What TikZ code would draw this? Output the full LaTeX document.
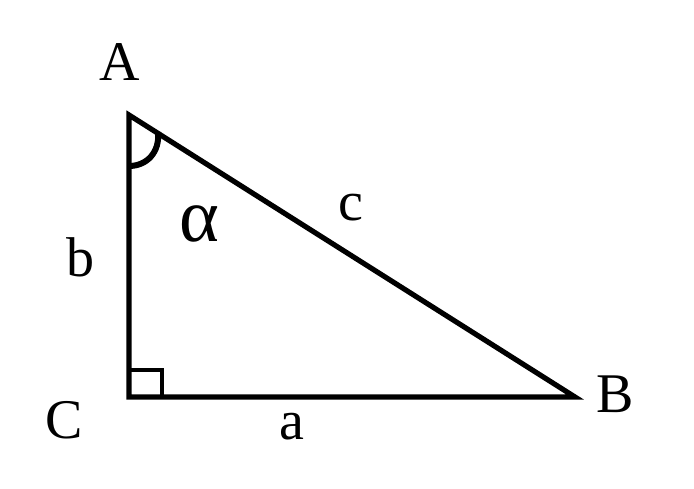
\documentclass[tikz,border=0pt]{standalone}
\usepackage{fontspec}
\setmainfont{Liberation Serif}
\usepackage{tikz}

\tikzset{
  side/.style={line width=5.2pt, line join=miter},
  lbl/.style={font=\fontsize{56}{60}\selectfont, inner sep=0pt}
}

\begin{document}
\begin{tikzpicture}[x=1pt, y=-1pt]
\useasboundingbox (0,0) rectangle (694,488);
\coordinate (A) at (129,115);
\coordinate (C) at (129,397);
\coordinate (B) at (575,397);
\draw[side] (A) -- (C) -- (B) -- cycle;
% right angle and angle mark
\draw[line width=4.2pt] (129,370) -- (162,370) -- (162,397);
\draw[line width=6pt] (129,166) .. controls (147,166) and (160,152) .. (158,132);
\foreach \Name/\X/\Y/\Text in {lA/120/62/A, lB/615/394/B, lC/64/420/C, la/292/427/a, lb/80/257/b, lc/351/208/c}
    \node[lbl] (\Name) at (\X,\Y) {\Text};
\node[lbl, font=\fontsize{76}{80}\selectfont] (alpha) at (199,224) {α};
\end{tikzpicture}
\end{document}
